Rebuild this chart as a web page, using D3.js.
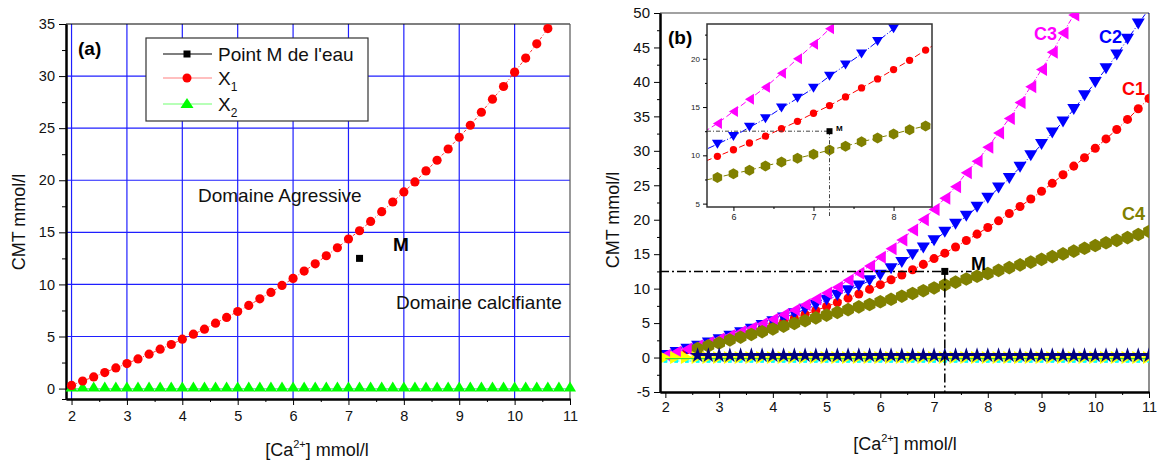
<!DOCTYPE html>
<html><head><meta charset="utf-8">
<script src="https://cdn.jsdelivr.net/npm/d3@7"></script>
<style>body{margin:0;background:#fff;} svg{display:block;} text{font-family:"Liberation Sans",Arial,sans-serif;}</style>
</head><body><svg id="c" width="1159" height="461"></svg>
<script>
// ---------- DATA ----------
const xsA = [2.0,2.2,2.4,2.6,2.8,3.0,3.2,3.4,3.6,3.8,4.0,4.2,4.4,4.6,4.8,5.0,5.2,5.4,5.6,5.8,6.0,6.2,6.4,6.6,6.8,7.0,7.2,7.4,7.6,7.8,8.0,8.2,8.4,8.6,8.8,9.0,9.2,9.4,9.6,9.8,10.0,10.2,10.4,10.6];
const x1Vals = [0.3,0.73,1.12,1.54,1.98,2.4,2.85,3.3,3.78,4.23,4.74,5.22,5.7,6.28,6.83,7.4,7.98,8.62,9.23,9.9,10.58,11.28,11.98,12.75,13.52,14.36,15.15,16.05,16.98,17.91,18.88,19.84,20.9,21.92,23.0,24.13,25.28,26.53,27.78,29.0,30.38,31.73,33.1,34.56];
const xsFull = [2.0,2.2,2.4,2.6,2.8,3.0,3.2,3.4,3.6,3.8,4.0,4.2,4.4,4.6,4.8,5.0,5.2,5.4,5.6,5.8,6.0,6.2,6.4,6.6,6.8,7.0,7.2,7.4,7.6,7.8,8.0,8.2,8.4,8.6,8.8,9.0,9.2,9.4,9.6,9.8,10.0,10.2,10.4,10.6,10.8,11.0];
const x2Vals = [0,0,0,0,0,0,0,0,0,0,0,0,0,0,0,0,0,0,0,0,0,0,0,0,0,0,0,0,0,0,0,0,0,0,0,0,0,0,0,0,0,0,0,0,0,0];
const pointM = [7.2, 12.5];
const c1Vals = [0.3,0.73,1.12,1.54,1.98,2.4,2.85,3.3,3.78,4.23,4.74,5.22,5.7,6.28,6.83,7.4,7.98,8.62,9.23,9.9,10.58,11.28,11.98,12.75,13.52,14.36,15.15,16.05,16.98,17.91,18.88,19.84,20.9,21.92,23.0,24.13,25.28,26.53,27.78,29.0,30.38,31.73,33.1,34.56,36.1,37.6];
const c2Vals = [0.3,0.75,1.2,1.65,2.1,2.6,3.1,3.6,4.1,4.65,5.2,5.75,6.35,7.0,7.6,8.3,9.0,9.7,10.4,11.16,11.95,12.9,13.8,14.9,15.9,16.95,18.2,19.35,20.5,21.8,23.1,24.6,26.0,27.6,29.3,30.9,32.6,34.2,36.0,38.0,39.9,41.9,43.9,46.2,48.4,50.6];
const xsC3 = [2.0,2.2,2.4,2.6,2.8,3.0,3.2,3.4,3.6,3.8,4.0,4.2,4.4,4.6,4.8,5.0,5.2,5.4,5.6,5.8,6.0,6.2,6.4,6.6,6.8,7.0,7.2,7.4,7.6,7.8,8.0,8.2,8.4,8.6,8.8,9.0,9.2,9.4,9.6];
const c3Vals = [0.35,0.8,1.25,1.7,2.2,2.7,3.2,3.75,4.3,4.9,5.55,6.25,6.9,7.65,8.5,9.35,10.2,11.2,12.25,13.3,14.55,15.8,17.05,18.5,20.0,21.5,23.1,24.8,26.8,28.5,30.5,32.6,34.7,37.0,39.3,41.8,44.3,47.1,49.7];
const xsC4 = [2.6,2.8,3.0,3.2,3.4,3.6,3.8,4.0,4.2,4.4,4.6,4.8,5.0,5.2,5.4,5.6,5.8,6.0,6.2,6.4,6.6,6.8,7.0,7.2,7.4,7.6,7.8,8.0,8.2,8.4,8.6,8.8,9.0,9.2,9.4,9.6,9.8,10.0,10.2,10.4,10.6,10.8,11.0];
const c4Vals = [1.3,1.7,2.1,2.55,2.95,3.35,3.75,4.15,4.55,4.95,5.35,5.75,6.15,6.55,6.95,7.35,7.7,8.1,8.45,8.9,9.3,9.7,10.1,10.55,10.95,11.4,11.8,12.2,12.65,13.05,13.45,13.85,14.25,14.65,15.05,15.45,15.85,16.25,16.65,17.0,17.4,17.85,18.3];
const starVals = [0.3,0.3,0.3,0.3,0.3,0.3,0.3,0.3,0.3,0.3,0.3,0.3,0.3,0.3,0.3,0.3,0.3,0.3,0.3,0.3,0.3,0.3,0.3,0.3,0.3,0.3,0.3,0.3,0.3,0.3,0.3,0.3,0.3,0.3,0.3,0.3,0.3,0.3,0.3,0.3,0.3,0.3,0.3];
const yellowVals = [0,0,0,0,0,0,0,0,0,0,0,0,0,0,0,0,0,0,0,0,0,0,0,0,0,0,0,0,0,0,0,0,0,0,0,0,0,0,0,0,0,0,0,0,0,0];
const cyanVals = [-0.5,-0.5,-0.5,-0.5,-0.5,-0.5,-0.5,-0.5,-0.5,-0.5,-0.5,-0.5,-0.5,-0.5,-0.5,-0.5,-0.5,-0.5,-0.5,-0.5,-0.5,-0.5,-0.5,-0.5,-0.5,-0.5,-0.5,-0.5,-0.5,-0.5,-0.5,-0.5,-0.5,-0.5,-0.5,-0.5,-0.5,-0.5,-0.5,-0.5,-0.5,-0.5,-0.5,-0.5,-0.5,-0.5];
const greenVals = [-0.15,-0.15,-0.15,-0.15,-0.15,-0.15,-0.15,-0.15,-0.15,-0.15,-0.15,-0.15,-0.15,-0.15,-0.15,-0.15,-0.15,-0.15,-0.15,-0.15,-0.15,-0.15,-0.15,-0.15,-0.15,-0.15,-0.15,-0.15,-0.15,-0.15,-0.15,-0.15,-0.15,-0.15,-0.15,-0.15,-0.15,-0.15,-0.15,-0.15,-0.15,-0.15,-0.15,-0.15,-0.15,-0.15];
const xTicks = [2,3,4,5,6,7,8,9,10,11];
const xMinor = [2.5,3.5,4.5,5.5,6.5,7.5,8.5,9.5,10.5];
const yTicksA = [0,5,10,15,20,25,30,35];
const yMinorA = [-1,2.5,7.5,12.5,17.5,22.5,27.5,32.5];
const yTicksB = [-5,0,5,10,15,20,25,30,35,40,45,50];
const yMinorB = [-2.5,2.5,7.5,12.5,17.5,22.5,27.5,32.5,37.5,42.5,47.5];
const xTicksI = [6,7,8];
const xMinorI = [6.5,7.5];
const yTicksI = [5,10,15,20];
const yMinorI = [7.5,12.5,17.5,22.5];
const legendLabels = ["Point M de l'eau", "X", "X"];
const legendSubs = ["", "1", "2"];
const curveLabels = ["C1","C2","C3","C4"];

// ---------- HELPERS ----------
const svg = d3.select('#c');
const zip = (xs, ys) => xs.map((x, i) => [x, ys[i]]);
function triPath(dir, w, h) {
  const a = w/2, b = h/2;
  if (dir === 'up') return `M0,${-b}L${a},${b}L${-a},${b}Z`;
  if (dir === 'down') return `M0,${b}L${a},${-b}L${-a},${-b}Z`;
  if (dir === 'left') return `M${-b},0L${b},${-a}L${b},${a}Z`;
  return `M${b},0L${-b},${-a}L${-b},${a}Z`;
}
function hexPath(r) {
  let p = '';
  for (let k = 0; k < 6; k++) {
    const ang = Math.PI/6 + k*Math.PI/3;
    p += (k ? 'L' : 'M') + (r*Math.cos(ang)).toFixed(2) + ',' + (r*Math.sin(ang)).toFixed(2);
  }
  return p + 'Z';
}
function drawAxis(g, axis, tx, ty, sw) {
  const a = g.append('g').attr('transform', `translate(${tx},${ty})`).call(axis);
  a.select('.domain').attr('stroke', '#000').attr('stroke-width', sw);
  a.selectAll('.tick line').attr('stroke', '#000').attr('stroke-width', 1);
  return a;
}

// ================= PANEL A =================
const xa = d3.scaleLinear().domain([1.9, 11]).range([66, 570]);
const ya = d3.scaleLinear().domain([-1, 35]).range([399, 24]);
const gA = svg.append('g');
gA.selectAll('line.vg').data(xTicks.filter(d => d < 11)).join('line')
  .attr('x1', d => xa(d)).attr('x2', d => xa(d)).attr('y1', ya(-1)).attr('y2', ya(35))
  .attr('stroke', '#1f1fff').attr('stroke-width', 1.2);
gA.selectAll('line.hg').data(yTicksA.filter(d => d < 35)).join('line')
  .attr('x1', xa(1.9)).attr('x2', xa(11)).attr('y1', d => ya(d)).attr('y2', d => ya(d))
  .attr('stroke', '#1f1fff').attr('stroke-width', 1.2);
gA.append('line').attr('x1', xa(1.9)).attr('x2', xa(11)).attr('y1', ya(35)).attr('y2', ya(35)).attr('stroke', '#000').attr('stroke-width', 1.2);
gA.append('line').attr('x1', xa(11)).attr('x2', xa(11)).attr('y1', ya(35)).attr('y2', ya(-1)).attr('stroke', '#555').attr('stroke-width', 1.2);

// axes
const fmt = d => String(d);
const axBA = drawAxis(gA, d3.axisBottom(xa).tickValues(xTicks).tickSize(6).tickSizeOuter(0).tickPadding(6).tickFormat(fmt), 0, ya(-1), 2);
axBA.selectAll('text').attr('font-size', 14.5).attr('fill', '#111').attr('font-family', '"Liberation Sans", Arial, sans-serif');
drawAxis(gA, d3.axisBottom(xa).tickValues(xMinor).tickSize(3).tickSizeOuter(0).tickFormat(''), 0, ya(-1), 2);
const axLA = drawAxis(gA, d3.axisLeft(ya).tickValues(yTicksA).tickSize(7).tickSizeOuter(0).tickPadding(4).tickFormat(fmt), xa(1.9), 0, 2);
axLA.selectAll('text').attr('font-size', 14.5).attr('fill', '#111').attr('font-family', '"Liberation Sans", Arial, sans-serif');
drawAxis(gA, d3.axisLeft(ya).tickValues(yMinorA).tickSize(4).tickSizeOuter(0).tickFormat(''), xa(1.9), 0, 2);

// X2 green
gA.append('path').datum(zip(xsFull, x2Vals))
  .attr('d', d3.line().x(d => xa(d[0])).y(d => ya(d[1])))
  .attr('fill', 'none').attr('stroke', '#7dff7d').attr('stroke-width', 1);
gA.selectAll('path.t2').data(zip(xsFull, x2Vals)).join('path')
  .attr('d', triPath('up', 12, 10)).attr('transform', d => `translate(${xa(d[0])},${ya(d[1]) - 2})`)
  .attr('fill', '#00ff00');
// X1 red
gA.append('path').datum(zip(xsA, x1Vals))
  .attr('d', d3.line().x(d => xa(d[0])).y(d => ya(d[1])))
  .attr('fill', 'none').attr('stroke', '#ff3333').attr('stroke-width', 1).attr('stroke-dasharray', '3,2,1,2');
gA.selectAll('circle.c1').data(zip(xsA, x1Vals)).join('circle')
  .attr('cx', d => xa(d[0])).attr('cy', d => ya(d[1])).attr('r', 4.6).attr('fill', '#ff0000');
// Point M
gA.append('rect').attr('x', xa(pointM[0]) - 3.5).attr('y', ya(pointM[1]) - 3.5).attr('width', 7).attr('height', 7).attr('fill', '#000');
gA.append('text').attr('x', 393).attr('y', 251).attr('font-size', 19).attr('font-weight', 'bold').text('M');
gA.append('text').attr('x', 78).attr('y', 55).attr('font-size', 19).attr('font-weight', 'bold').text('(a)');
gA.append('text').attr('x', 198).attr('y', 202).attr('font-size', 19).attr('fill', '#111').text('Domaine Agressive');
gA.append('text').attr('x', 396).attr('y', 309).attr('font-size', 19).attr('fill', '#111').text('Domaine calcifiante');

// legend
const lg = gA.append('g');
lg.append('rect').attr('x', 146).attr('y', 38).attr('width', 222).attr('height', 83).attr('fill', '#fff').attr('stroke', '#333').attr('stroke-width', 1.2);
const lgColors = ['#000', '#ff8080', '#70ff70'];
const lgY = [54, 78, 104];
legendLabels.forEach((lab, i) => {
  lg.append('line').attr('x1', 163).attr('x2', 212).attr('y1', lgY[i]).attr('y2', lgY[i]).attr('stroke', lgColors[i]).attr('stroke-width', 1.2);
  if (i === 0) lg.append('rect').attr('x', 183.5).attr('y', lgY[i] - 3.5).attr('width', 7).attr('height', 7).attr('fill', '#000');
  if (i === 1) lg.append('circle').attr('cx', 187).attr('cy', lgY[i]).attr('r', 4.5).attr('fill', '#ff0000');
  if (i === 2) lg.append('path').attr('d', triPath('up', 13, 10)).attr('transform', `translate(187,${lgY[i] - 1})`).attr('fill', '#00ff00');
  const t = lg.append('text').attr('x', 218).attr('y', lgY[i] + 7).attr('font-size', 19).attr('fill', '#111').text(lab);
  if (legendSubs[i]) t.append('tspan').attr('font-size', 12).attr('dy', 6).text(legendSubs[i]);
});

// axis titles A
const ta = gA.append('text').attr('x', 317).attr('y', 456).attr('text-anchor', 'middle').attr('font-size', 18).attr('fill', '#111');
ta.append('tspan').text('[Ca');
ta.append('tspan').attr('font-size', 11).attr('dy', -8).text('2+');
ta.append('tspan').attr('dy', 8).text('] mmol/l');
gA.append('text').attr('transform', 'translate(25,222) rotate(-90)').attr('text-anchor', 'middle').attr('font-size', 18).attr('fill', '#111').text('CMT mmol/l');

// ================= PANEL B =================
const xb = d3.scaleLinear().domain([1.9, 11]).range([660, 1149]);
const yb = d3.scaleLinear().domain([-5, 50]).range([392, 13]);
const gB = svg.append('g');
svg.append('defs').append('clipPath').attr('id', 'clipB').append('rect')
  .attr('x', xb(1.9)).attr('y', yb(50)).attr('width', xb(11) - xb(1.9)).attr('height', yb(-5) - yb(50));
gB.append('line').attr('x1', xb(1.9)).attr('x2', xb(11)).attr('y1', yb(50)).attr('y2', yb(50)).attr('stroke', '#444').attr('stroke-width', 1.2);
gB.append('line').attr('x1', xb(11)).attr('x2', xb(11)).attr('y1', yb(50)).attr('y2', yb(-5)).attr('stroke', '#444').attr('stroke-width', 1.2);

const plotB = gB.append('g').attr('clip-path', 'url(#clipB)');

function series(g, xs, ys, xs_, ys_, color, dash, marker) {
  const pts = zip(xs, ys);
  g.append('path').datum(pts).attr('d', d3.line().x(d => xs_(d[0])).y(d => ys_(d[1])))
    .attr('fill', 'none').attr('stroke', color).attr('stroke-width', 1).attr('stroke-dasharray', dash);
  g.selectAll(null).data(pts).join('path').attr('d', marker)
    .attr('transform', d => `translate(${xs_(d[0])},${ys_(d[1])})`).attr('fill', color);
}
const dashB = '5,2,1,2';
series(plotB, xsFull, c1Vals, xb, yb, '#ff0000', dashB, d3.symbol(d3.symbolCircle, 64)());
series(plotB, xsFull, c2Vals, xb, yb, '#0000ff', dashB, triPath('down', 13, 11));
series(plotB, xsC3, c3Vals, xb, yb, '#ff00ff', dashB, triPath('left', 13, 11));
series(plotB, xsC4, c4Vals, xb, yb, '#808000', dashB, hexPath(6.8));
series(plotB, xsFull, cyanVals, xb, yb, '#00ffff', '2,2', d3.symbol(d3.symbolSquare, 14)());
series(plotB, xsFull, yellowVals, xb, yb, '#ffff00', '2,2', triPath('right', 13, 12));
plotB.append('path').datum(zip(xsFull, greenVals)).attr('d', d3.line().x(d => xb(d[0])).y(d => yb(d[1])))
  .attr('fill', 'none').attr('stroke', '#33dd33').attr('stroke-width', 1.3);
series(plotB, xsC4, starVals, xb, yb, '#000080', 'none', d3.symbol(d3.symbolStar, 75)());

// M lines
gB.append('line').attr('x1', xb(1.9)).attr('x2', xb(7.7)).attr('y1', yb(pointM[1])).attr('y2', yb(pointM[1]))
  .attr('stroke', '#000').attr('stroke-width', 1.5).attr('stroke-dasharray', '9,3,2,3');
gB.append('line').attr('x1', xb(pointM[0])).attr('x2', xb(pointM[0])).attr('y1', yb(pointM[1])).attr('y2', yb(-5))
  .attr('stroke', '#000').attr('stroke-width', 1.5).attr('stroke-dasharray', '9,3,2,3');
gB.append('rect').attr('x', xb(pointM[0]) - 3.5).attr('y', yb(pointM[1]) - 3.5).attr('width', 7).attr('height', 7).attr('fill', '#000');
gB.append('text').attr('x', 971).attr('y', 270).attr('font-size', 18).attr('font-weight', 'bold').text('M');

// axes B
const axBB = drawAxis(gB, d3.axisBottom(xb).tickValues(xTicks).tickSize(6).tickSizeOuter(0).tickPadding(4).tickFormat(fmt), 0, yb(-5), 2);
axBB.selectAll('text').attr('font-size', 14.5).attr('fill', '#111').attr('font-family', '"Liberation Sans", Arial, sans-serif');
drawAxis(gB, d3.axisBottom(xb).tickValues(xMinor).tickSize(3).tickSizeOuter(0).tickFormat(''), 0, yb(-5), 2);
const axLB = drawAxis(gB, d3.axisLeft(yb).tickValues(yTicksB).tickSize(6).tickSizeOuter(0).tickPadding(4).tickFormat(fmt), xb(1.9), 0, 2);
axLB.selectAll('text').attr('font-size', 15).attr('fill', '#111').attr('font-family', '"Liberation Sans", Arial, sans-serif');
drawAxis(gB, d3.axisLeft(yb).tickValues(yMinorB).tickSize(3).tickSizeOuter(0).tickFormat(''), xb(1.9), 0, 2);

// curve labels
const clPos = [[1122, 95, '#ff0000'], [1099, 43, '#0000ff'], [1034, 40, '#ff00ff'], [1122, 220, '#808000']];
curveLabels.forEach((c, i) => {
  gB.append('text').attr('x', clPos[i][0]).attr('y', clPos[i][1]).attr('font-size', 18).attr('font-weight', 'bold')
    .attr('fill', clPos[i][2]).text(c);
});
gB.append('text').attr('x', 668).attr('y', 44).attr('font-size', 19).attr('font-weight', 'bold').text('(b)');

const tb = gB.append('text').attr('x', 905).attr('y', 450).attr('text-anchor', 'middle').attr('font-size', 18).attr('fill', '#111');
tb.append('tspan').text('[Ca');
tb.append('tspan').attr('font-size', 11).attr('dy', -8).text('2+');
tb.append('tspan').attr('dy', 8).text('] mmol/l');
gB.append('text').attr('transform', 'translate(619,220) rotate(-90)').attr('text-anchor', 'middle').attr('font-size', 18).attr('fill', '#111').text('CMT mmol/l');

// ---------- INSET ----------
const xi = d3.scaleLinear().domain([5.67, 8.48]).range([707, 932]);
const yi = d3.scaleLinear().domain([4.65, 23.6]).range([207, 24]);
const gI = svg.append('g');
gI.append('rect').attr('x', 707).attr('y', 24).attr('width', 225).attr('height', 183).attr('fill', '#fff');
svg.select('defs').append('clipPath').attr('id', 'clipI').append('rect').attr('x', 707).attr('y', 24).attr('width', 225).attr('height', 183);
const plotI = gI.append('g').attr('clip-path', 'url(#clipI)');
const dashI = '6,3';
series(plotI, xsFull, c1Vals, xi, yi, '#ff0000', dashI, d3.symbol(d3.symbolCircle, 42)());
series(plotI, xsFull, c2Vals, xi, yi, '#0000ff', '7,2,1,2', triPath('down', 11, 9));
series(plotI, xsC3, c3Vals, xi, yi, '#ff00ff', dashI, triPath('left', 11, 9));
series(plotI, xsC4, c4Vals, xi, yi, '#808000', dashI, hexPath(5.5));
plotI.append('line').attr('x1', 707).attr('x2', xi(pointM[0])).attr('y1', yi(pointM[1])).attr('y2', yi(pointM[1]))
  .attr('stroke', '#444').attr('stroke-width', 1).attr('stroke-dasharray', '4,2,1,2');
gI.append('line').attr('x1', xi(pointM[0])).attr('x2', xi(pointM[0])).attr('y1', yi(pointM[1])).attr('y2', 216)
  .attr('stroke', '#444').attr('stroke-width', 1).attr('stroke-dasharray', '4,2,1,2');
gI.append('rect').attr('x', xi(pointM[0]) - 3).attr('y', yi(pointM[1]) - 3).attr('width', 6).attr('height', 6).attr('fill', '#000');
gI.append('text').attr('x', 836).attr('y', 131).attr('font-size', 8).attr('font-weight', 'bold').text('M');
gI.append('rect').attr('x', 707).attr('y', 24).attr('width', 225).attr('height', 183).attr('fill', 'none').attr('stroke', '#333').attr('stroke-width', 1.5);
const axBI = drawAxis(gI, d3.axisBottom(xi).tickValues(xTicksI).tickSize(4).tickSizeOuter(0).tickPadding(3).tickFormat(fmt), 0, 207, 0);
axBI.selectAll('text').attr('font-size', 9).attr('fill', '#222').attr('font-family', '"Liberation Sans", Arial, sans-serif');
drawAxis(gI, d3.axisBottom(xi).tickValues(xMinorI).tickSize(2).tickSizeOuter(0).tickFormat(''), 0, 207, 0);
const axLI = drawAxis(gI, d3.axisLeft(yi).tickValues(yTicksI).tickSize(4).tickSizeOuter(0).tickPadding(3).tickFormat(fmt), 707, 0, 0);
axLI.selectAll('text').attr('font-size', 8).attr('fill', '#222').attr('font-family', '"Liberation Sans", Arial, sans-serif');
drawAxis(gI, d3.axisLeft(yi).tickValues(yMinorI).tickSize(2).tickSizeOuter(0).tickFormat(''), 707, 0, 0);
</script></body></html>
